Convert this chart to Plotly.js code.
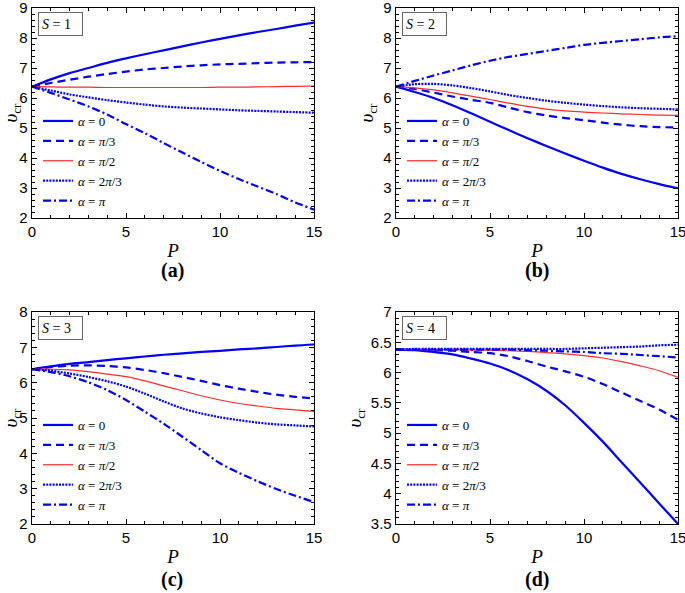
<!DOCTYPE html>
<html>
<head>
<meta charset="utf-8">
<script src="https://cdn.plot.ly/plotly-3.0.1.min.js"></script>
<style>html,body{margin:0;padding:0;background:#fff;}#chart{width:685px;height:593px;}</style>
</head>
<body>
<div id="chart"></div>
<script>
const P = [0,1,2,3,4,5,6,7,8,9,10,11,12,13,14,15];
const alphaLabels = ['<i>α</i> = 0', '<i>α</i> = <i>π</i>/3', '<i>α</i> = <i>π</i>/2', '<i>α</i> = 2<i>π</i>/3', '<i>α</i> = <i>π</i>'];
const panelLabels = ['(a)', '(b)', '(c)', '(d)'];
const sLabels = ['<i>S</i> = 1', '<i>S</i> = 2', '<i>S</i> = 3', '<i>S</i> = 4'];

// S = 1
const s1_a0    = [6.38,6.62,6.83,7.0,7.17,7.32,7.46,7.59,7.72,7.85,7.97,8.09,8.2,8.3,8.41,8.51];
const s1_api3  = [6.38,6.5,6.61,6.71,6.8,6.88,6.95,7.0,7.05,7.09,7.12,7.14,7.16,7.18,7.19,7.2];
const s1_api2  = [6.38,6.37,6.36,6.36,6.35,6.35,6.35,6.35,6.35,6.35,6.36,6.36,6.37,6.38,6.39,6.4];
const s1_a2pi3 = [6.38,6.25,6.12,6.02,5.93,5.85,5.78,5.72,5.68,5.65,5.62,5.59,5.57,5.55,5.53,5.51];
const s1_api   = [6.38,6.17,5.95,5.72,5.45,5.13,4.83,4.5,4.18,3.87,3.57,3.3,3.05,2.8,2.52,2.28];
// S = 2
const s2_a0    = [6.38,6.2,6.0,5.76,5.49,5.21,4.93,4.66,4.4,4.15,3.91,3.68,3.47,3.29,3.13,2.99];
const s2_api3  = [6.38,6.3,6.18,6.05,5.94,5.84,5.68,5.53,5.42,5.33,5.26,5.18,5.11,5.06,5.03,5.02];
const s2_api2  = [6.38,6.34,6.27,6.17,6.06,5.95,5.83,5.72,5.63,5.57,5.53,5.5,5.47,5.45,5.43,5.42];
const s2_a2pi3 = [6.38,6.46,6.47,6.42,6.33,6.22,6.1,6.0,5.91,5.84,5.78,5.73,5.69,5.66,5.64,5.62];
const s2_api   = [6.38,6.57,6.75,6.92,7.09,7.24,7.37,7.47,7.57,7.67,7.77,7.84,7.9,7.96,8.02,8.06];
// S = 3
const s3_a0    = [6.38,6.46,6.53,6.58,6.64,6.69,6.74,6.79,6.83,6.87,6.9,6.94,6.97,7.01,7.05,7.08];
const s3_api3  = [6.38,6.44,6.48,6.49,6.47,6.43,6.36,6.27,6.16,6.05,5.93,5.83,5.74,5.66,5.6,5.55];
const s3_api2  = [6.38,6.38,6.36,6.31,6.24,6.17,6.05,5.91,5.77,5.63,5.51,5.41,5.34,5.27,5.23,5.19];
const s3_a2pi3 = [6.38,6.34,6.26,6.16,6.04,5.89,5.69,5.47,5.27,5.13,5.02,4.94,4.87,4.82,4.79,4.76];
const s3_api   = [6.38,6.3,6.18,6.01,5.79,5.51,5.18,4.84,4.47,4.09,3.72,3.45,3.21,2.99,2.8,2.62];
// S = 4
const s4_a0    = [6.38,6.37,6.34,6.3,6.23,6.15,6.04,5.89,5.7,5.46,5.17,4.86,4.52,4.18,3.84,3.5];
const s4_api3  = [6.38,6.38,6.37,6.36,6.34,6.32,6.27,6.19,6.1,6.02,5.93,5.81,5.67,5.53,5.39,5.22];
const s4_api2  = [6.38,6.38,6.38,6.38,6.37,6.37,6.36,6.35,6.33,6.31,6.28,6.24,6.18,6.11,6.03,5.92];
const s4_a2pi3 = [6.38,6.39,6.39,6.39,6.39,6.39,6.39,6.39,6.39,6.39,6.4,6.41,6.42,6.43,6.45,6.46];
const s4_api   = [6.38,6.38,6.38,6.38,6.38,6.38,6.38,6.37,6.36,6.35,6.34,6.32,6.31,6.29,6.27,6.25];

const panels = [
  [s1_a0, s1_api3, s1_api2, s1_a2pi3, s1_api],
  [s2_a0, s2_api3, s2_api2, s2_a2pi3, s2_api],
  [s3_a0, s3_api3, s3_api2, s3_a2pi3, s3_api],
  [s4_a0, s4_api3, s4_api2, s4_a2pi3, s4_api]
];
const yRanges = [[2,9],[2,9],[2,8],[3.5,7]];
const yDticks = [1,1,1,0.5];
const yMinor = [0.2,0.2,0.2,0.1];

const styles = [
  {color:'#0000ff', width:2.2, dash:'solid'},
  {color:'#0000ff', width:2.2, dash:'8px,5px'},
  {color:'#ff2a2a', width:1.2, dash:'solid'},
  {color:'#0000ff', width:2.2, dash:'2px,1.2px'},
  {color:'#0000ff', width:2.2, dash:'8px,3px,2px,3px'}
];

const W = 685, H = 593;
const xDom = [[32/W, 314/W],[396/W, 678/W],[32/W, 314/W],[396/W, 678/W]];
const yDom = [[1-218/H, 1-8/H],[1-218/H, 1-8/H],[1-524/H, 1-312/H],[1-524/H, 1-312/H]];
const legBottom = [216, 216, 520, 520];
const legLeft = [38, 402, 38, 402];
const labelPos = [[172,270],[537,270],[172,579],[537,579]];

const serif = 'Liberation Serif, Times New Roman, serif';
const sans = 'Liberation Sans, Arial, sans-serif';

const traces = [];
const layout = {
  width: W, height: H,
  margin: {l:0, r:0, t:0, b:0},
  paper_bgcolor: '#fff', plot_bgcolor: '#fff',
  showlegend: true,
  annotations: [],
  font: {family: sans, color:'#000'}
};

panels.forEach((series, k) => {
  const n = k + 1;
  const xa = 'x' + (n === 1 ? '' : n), ya = 'y' + (n === 1 ? '' : n);
  const legName = 'legend' + (n === 1 ? '' : n);
  series.forEach((vals, i) => {
    traces.push({
      x: P, y: vals, type: 'scatter', mode: 'lines',
      xaxis: xa, yaxis: ya, legend: legName,
      name: alphaLabels[i],
      line: {color: styles[i].color, width: styles[i].width, dash: styles[i].dash, shape: 'spline', smoothing: 0.8},
      showlegend: true
    });
  });
  const axCommon = {
    showline: true, linecolor: '#000', linewidth: 1.3, mirror: 'allticks',
    ticks: 'inside', ticklen: 5, tickwidth: 1, tickcolor: '#000',
    showgrid: false, zeroline: false, ticklabeloverflow: 'allow',
    tickfont: {family: sans, size: 15, color: '#000'}
  };
  layout['xaxis' + (n === 1 ? '' : n)] = Object.assign({}, axCommon, {
    domain: xDom[k], anchor: ya, range: [0, 15], dtick: 5, tick0: 0,
    minor: {dtick: 1, ticklen: 3, ticks: 'inside', tickcolor: '#000', tickwidth: 1},
    title: {text: '<i>P</i>', font: {family: serif, size: 19, color: '#000'}, standoff: 4}
  });
  layout['yaxis' + (n === 1 ? '' : n)] = Object.assign({}, axCommon, {
    domain: yDom[k], anchor: xa, range: yRanges[k], dtick: yDticks[k], tick0: 0,
    minor: {dtick: yMinor[k], ticklen: 3, ticks: 'inside', tickcolor: '#000', tickwidth: 1},
    title: {text: '<i>υ</i><sub>cr</sub>', font: {family: serif, size: 19, color: '#000'}, standoff: 4}
  });
  layout[legName] = {
    x: legLeft[k] / W, y: 1 - legBottom[k] / H, xanchor: 'left', yanchor: 'bottom',
    bgcolor: 'rgba(0,0,0,0)', borderwidth: 0, tracegroupgap: 0,
    font: {family: serif, size: 13, color: '#000'}
  };
  layout.annotations.push({
    xref: 'paper', yref: 'paper', x: (legLeft[k]) / W, y: yDom[k][1] - 4 / H,
    xanchor: 'left', yanchor: 'top', showarrow: false,
    text: sLabels[k], font: {family: serif, size: 14, color: '#000'},
    width: 37, height: 16, align: 'left',
    bordercolor: '#666', borderwidth: 1, borderpad: 3, bgcolor: '#fff'
  });
  layout.annotations.push({
    xref: 'paper', yref: 'paper', x: labelPos[k][0] / W, y: 1 - labelPos[k][1] / H,
    xanchor: 'center', yanchor: 'middle', showarrow: false,
    text: '<b>' + panelLabels[k] + '</b>', font: {family: serif, size: 20, color: '#000'}
  });
});

Plotly.newPlot('chart', traces, layout, {staticPlot: true, displayModeBar: false});
</script>
</body>
</html>
